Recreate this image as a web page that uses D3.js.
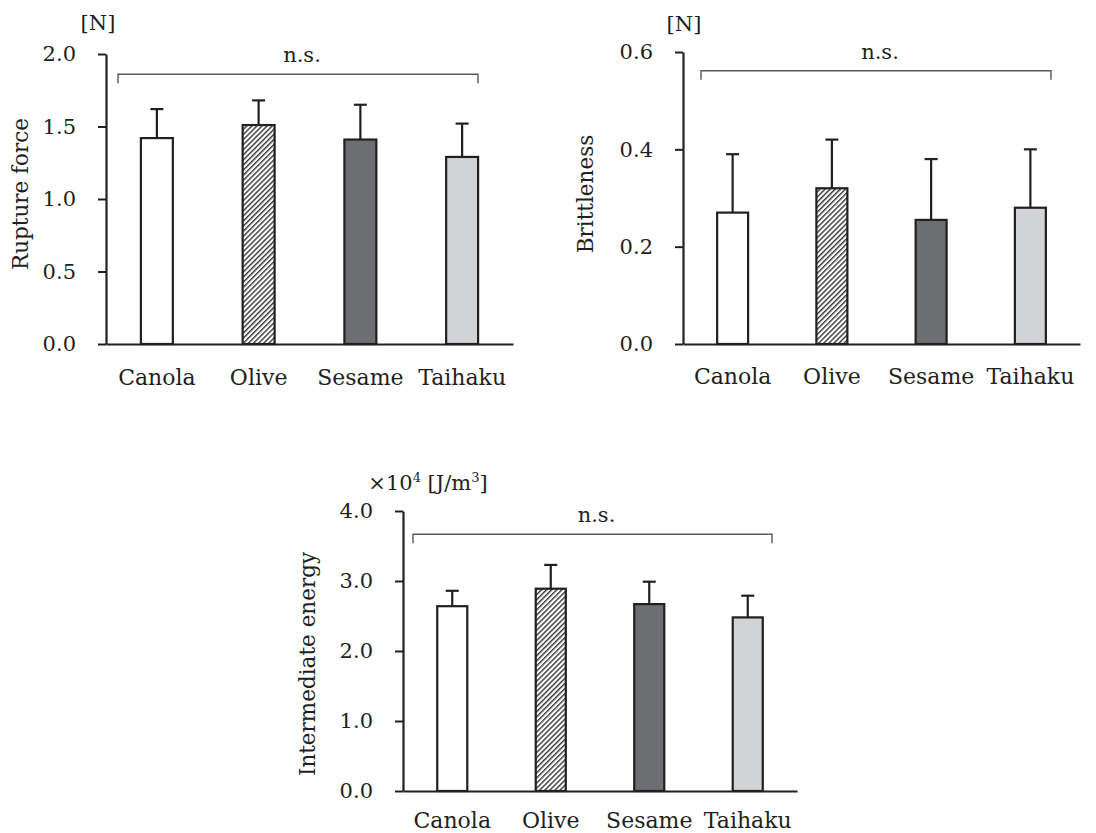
<!DOCTYPE html>
<html>
<head>
<meta charset="utf-8">
<script src="https://cdn.jsdelivr.net/npm/d3@7"></script>
<style>
  html, body { margin: 0; padding: 0; background: #fff; }
  svg { display: block; }
  text { font-family: "DejaVu Serif", serif; fill: #231f20; }
</style>
</head>
<body>
<svg id="chart" width="1096" height="833"></svg>
<script>
const categories = ["Canola", "Olive", "Sesame", "Taihaku"];

const ruptureMean = [1.42, 1.51, 1.41, 1.29];
const ruptureSD   = [0.20, 0.17, 0.24, 0.23];
const ruptureTicks = [0.0, 0.5, 1.0, 1.5, 2.0];

const brittleMean = [0.27, 0.32, 0.255, 0.28];
const brittleSD   = [0.12, 0.10, 0.125, 0.12];
const brittleTicks = [0.0, 0.2, 0.4, 0.6];

const energyMean = [2.64, 2.89, 2.67, 2.48];
const energySD   = [0.22, 0.34, 0.32, 0.31];
const energyTicks = [0.0, 1.0, 2.0, 3.0, 4.0];

const svg = d3.select("#chart");
const ink = "#231f20";

// hatch pattern
const defs = svg.append("defs");
const pat = defs.append("pattern")
  .attr("id", "hatch")
  .attr("patternUnits", "userSpaceOnUse")
  .attr("width", 3.6).attr("height", 3.6)
  .attr("patternTransform", "rotate(45)");
pat.append("rect").attr("width", 3.6).attr("height", 3.6).attr("fill", "#fff");
pat.append("line").attr("x1", 0.7).attr("y1", 0).attr("x2", 0.7).attr("y2", 3.6)
  .attr("stroke", "#333").attr("stroke-width", 1.4);

const fills = ["#ffffff", "url(#hatch)", "#6d6e71", "#d1d3d4"];

function panel(cfg) {
  const g = svg.append("g");
  const x = d3.scaleBand().domain(categories)
    .range(cfg.xRange).paddingInner(cfg.pad).paddingOuter(cfg.pad / 2);
  const y = d3.scaleLinear().domain(cfg.yDomain).range(cfg.yRange);

  // y axis
  const ya = g.append("g").attr("transform", `translate(${cfg.xRange[0]},0)`)
    .call(d3.axisLeft(y).tickValues(cfg.ticks).tickFormat(d3.format(cfg.fmt))
      .tickSize(8).tickSizeOuter(0).tickPadding(22));
  ya.select(".domain").attr("stroke", ink).attr("stroke-width", 2.2);
  ya.selectAll(".tick line").attr("stroke", ink).attr("stroke-width", 2);
  ya.selectAll(".tick text").attr("font-family", "DejaVu Serif").attr("font-size", 21).attr("fill", ink);

  // bars
  const data = categories.map((c, i) => ({ c, m: cfg.mean[i], sd: cfg.sd[i], f: fills[i] }));
  g.selectAll("rect.bar").data(data).join("rect")
    .attr("class", "bar")
    .attr("x", d => x(d.c))
    .attr("width", x.bandwidth())
    .attr("y", d => y(d.m))
    .attr("height", d => y(0) - y(d.m))
    .attr("fill", d => d.f)
    .attr("stroke", ink).attr("stroke-width", 2.2);

  // error bars (upper)
  const cap = 13;
  g.selectAll("line.err").data(data).join("line")
    .attr("class", "err")
    .attr("x1", d => x(d.c) + x.bandwidth() / 2).attr("x2", d => x(d.c) + x.bandwidth() / 2)
    .attr("y1", d => y(d.m)).attr("y2", d => y(d.m + d.sd))
    .attr("stroke", ink).attr("stroke-width", 2.2);
  g.selectAll("line.cap").data(data).join("line")
    .attr("class", "cap")
    .attr("x1", d => x(d.c) + x.bandwidth() / 2 - cap / 2).attr("x2", d => x(d.c) + x.bandwidth() / 2 + cap / 2)
    .attr("y1", d => y(d.m + d.sd)).attr("y2", d => y(d.m + d.sd))
    .attr("stroke", ink).attr("stroke-width", 2.2);

  // x axis
  const xa = g.append("g").attr("transform", `translate(0,${y(0)})`)
    .call(d3.axisBottom(x).tickSize(0).tickSizeOuter(0).tickPadding(cfg.xPad));
  xa.select(".domain").attr("stroke", ink).attr("stroke-width", 2.2);
  xa.selectAll(".tick text").attr("font-family", "DejaVu Serif").attr("font-size", 22).attr("fill", ink);

  // bracket
  const bx0 = cfg.xRange[0] + cfg.brL, bx1 = cfg.xRange[1] - cfg.brR, by = y(cfg.brY);
  g.append("path")
    .attr("d", `M${bx0},${by + 9}V${by}H${bx1}V${by + 9}`)
    .attr("fill", "none").attr("stroke", "#58595b").attr("stroke-width", 1.4);
  g.append("text").attr("x", (bx0 + bx1) / 2 + 4).attr("y", by - 12)
    .attr("text-anchor", "middle").attr("font-size", 21).text("n.s.");

  // y label
  g.append("text")
    .attr("transform", `translate(${cfg.labX},${cfg.labY}) rotate(-90)`)
    .attr("text-anchor", "middle").attr("dy", "0.35em")
    .attr("font-size", 21.5).text(cfg.label);

  // unit
  const u = g.append("text").attr("x", cfg.unitX).attr("y", cfg.unitY)
    .attr("text-anchor", "middle").attr("font-size", 21);
  cfg.unit(u);
}

panel({
  xRange: [106, 513], pad: 0.686, yDomain: [0, 2], yRange: [344, 54],
  ticks: ruptureTicks, fmt: ".1f", mean: ruptureMean, sd: ruptureSD, xPad: 25,
  brL: 12, brR: 35, brY: 1.86, label: "Rupture force", labX: 20, labY: 194,
  unitX: 98, unitY: 30, unit: t => t.text("[N]")
});

panel({
  xRange: [683, 1080], pad: 0.688, yDomain: [0, 0.6], yRange: [344, 52],
  ticks: brittleTicks, fmt: ".1f", mean: brittleMean, sd: brittleSD, xPad: 24,
  brL: 18, brR: 29, brY: 0.5616, label: "Brittleness", labX: 585, labY: 194,
  unitX: 684, unitY: 31, unit: t => t.text("[N]")
});

panel({
  xRange: [403, 797], pad: 0.695, yDomain: [0, 4], yRange: [791, 511],
  ticks: energyTicks, fmt: ".1f", mean: energyMean, sd: energySD, xPad: 21,
  brL: 10, brR: 25, brY: 3.667, label: "Intermediate energy", labX: 307, labY: 664,
  unitX: 428, unitY: 490, unit: t => {
    t.append("tspan").text("×10");
    t.append("tspan").attr("font-size", 13).attr("dy", -8).text("4");
    t.append("tspan").attr("dy", 8).text(" [J/m");
    t.append("tspan").attr("font-size", 13).attr("dy", -8).text("3");
    t.append("tspan").attr("dy", 8).text("]");
  }
});
</script>
</body>
</html>
